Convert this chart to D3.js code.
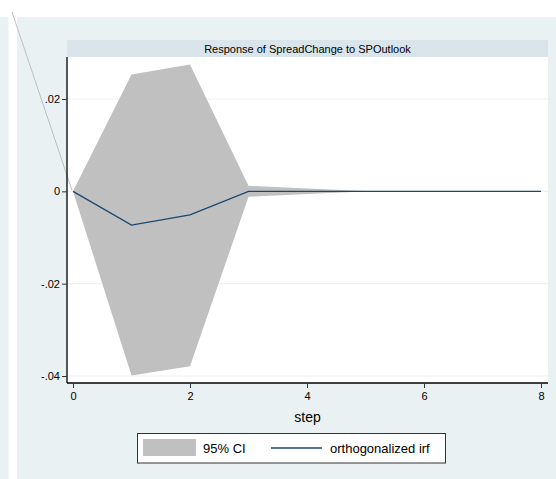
<!DOCTYPE html>
<html>
<head>
<meta charset="utf-8">
<script src="https://cdn.jsdelivr.net/npm/d3@7"></script>
<style>
  html, body { margin: 0; padding: 0; background: #ffffff; }
  svg { display: block; font-family: "Liberation Sans", Arial, sans-serif; }
</style>
</head>
<body>
<svg id="chart" width="556" height="479"></svg>
<script>
// Impulse-response: SpreadChange to an SPOutlook shock
const steps = [0, 1, 2, 3, 4, 5, 6, 7, 8];
const irf = [0, -0.0073, -0.0051, 0, 0, 0, 0, 0, 0];
const ciUpper = [0, 0.0253, 0.0275, 0.0012, 0.0006, 0.00005, 0, 0, 0];
const ciLower = [0, -0.0399, -0.0379, -0.0012, -0.0006, -0.00005, 0, 0, 0];
const xTicks = [0, 2, 4, 6, 8];
const yTicks = [0.02, 0, -0.02, -0.04];
const yTickLabels = [".02", "0", "-.02", "-.04"];
const titleText = "Response of SpreadChange to SPOutlook";
const xTitle = "step";
const legendLabels = ["95% CI", "orthogonalized irf"];

const svg = d3.select("#chart");
const W = 556, H = 479;

const panelFill = "#eaf1f3";
const titleFill = "#d9e5eb";
const bandFill = "#c0c0c0";
const lineColor = "#1a476f";

// outer graph regions
svg.append("rect").attr("x", 0).attr("y", 17).attr("width", 8.5).attr("height", H - 17).attr("fill", panelFill);
svg.append("rect").attr("x", 17).attr("y", 17).attr("width", W - 17).attr("height", H - 17).attr("fill", panelFill);

// plot area
const plot = { left: 67, right: 548, top: 57, bottom: 383 };
svg.append("rect").attr("x", plot.left).attr("y", 40).attr("width", plot.right - plot.left).attr("height", 17).attr("fill", titleFill);
svg.append("rect").attr("x", plot.left).attr("y", plot.top).attr("width", plot.right - plot.left).attr("height", plot.bottom - plot.top).attr("fill", "#ffffff");

svg.append("text")
  .attr("x", (plot.left + plot.right) / 2).attr("y", 52.5)
  .attr("text-anchor", "middle").attr("font-size", 11).attr("fill", "#000")
  .text(titleText);

const x = d3.scaleLinear().domain([0, 8]).range([73, 541]);
const y = d3.scaleLinear().domain([-0.04, 0.02]).range([376, 99]);

// gridlines
svg.append("g").selectAll("line").data(yTicks).join("line")
  .attr("x1", plot.left).attr("x2", plot.right)
  .attr("y1", d => y(d)).attr("y2", d => y(d))
  .attr("stroke", "#eaf2f3").attr("stroke-width", 1.2);

// stray guide line on the left
svg.append("line")
  .attr("x1", 12).attr("y1", 12).attr("x2", x(0) - 1).attr("y2", y(0) - 1)
  .attr("stroke", "#b8b8b8").attr("stroke-width", 0.9);

// confidence band
const area = d3.area()
  .x((d, i) => x(steps[i]))
  .y0((d, i) => y(ciLower[i]))
  .y1((d, i) => y(ciUpper[i]));
svg.append("path").datum(steps).attr("d", area).attr("fill", bandFill).attr("stroke", "none");

// irf line
const line = d3.line().x((d, i) => x(steps[i])).y((d, i) => y(irf[i]));
svg.append("path").datum(steps).attr("d", line)
  .attr("fill", "none").attr("stroke", lineColor).attr("stroke-width", 1.3);

// axes
const yAxis = d3.axisLeft(y).tickValues(yTicks).tickSize(5).tickPadding(2)
  .tickFormat((d, i) => yTickLabels[i]);
const gy = svg.append("g").attr("transform", `translate(${plot.left},0)`).call(yAxis);
gy.select(".domain").attr("d", `M0,${plot.top}V${plot.bottom}`).attr("stroke", "#000").attr("stroke-width", 1.3);

const xAxis = d3.axisBottom(x).tickValues(xTicks).tickSize(5).tickPadding(4).tickFormat(d3.format("d"));
const gx = svg.append("g").attr("transform", `translate(0,${plot.bottom})`).call(xAxis);
gx.select(".domain").attr("d", `M${plot.left},0H${plot.right}`).attr("stroke", "#000").attr("stroke-width", 1.3);

[gx, gy].forEach(g => {
  g.selectAll(".tick line").attr("stroke", "#333");
  g.selectAll(".tick text").attr("font-size", 11).attr("fill", "#000")
    .attr("font-family", "Liberation Sans, Arial, sans-serif");
});

svg.append("text")
  .attr("x", (plot.left + plot.right) / 2).attr("y", 422)
  .attr("text-anchor", "middle").attr("font-size", 14).attr("fill", "#000")
  .text(xTitle);

// legend
const lg = svg.append("g");
lg.append("rect").attr("x", 137.5).attr("y", 433.5).attr("width", 308).attr("height", 29.5)
  .attr("fill", "#ffffff").attr("stroke", "#333").attr("stroke-width", 1);
lg.append("rect").attr("x", 143).attr("y", 439).attr("width", 53).attr("height", 17).attr("fill", bandFill);
lg.append("text").attr("x", 203).attr("y", 453).attr("font-size", 13).attr("fill", "#000").text(legendLabels[0]);
lg.append("line").attr("x1", 271).attr("x2", 322).attr("y1", 448).attr("y2", 448)
  .attr("stroke", lineColor).attr("stroke-width", 1.3);
lg.append("text").attr("x", 330).attr("y", 453).attr("font-size", 13).attr("fill", "#000").text(legendLabels[1]);
</script>
</body>
</html>
